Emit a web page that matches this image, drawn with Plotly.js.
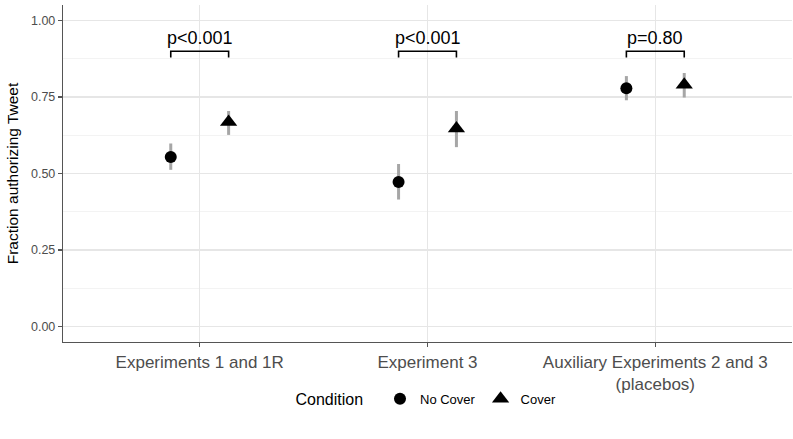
<!DOCTYPE html>
<html>
<head>
<meta charset="utf-8">
<script src="https://cdn.plot.ly/plotly-3.0.1.min.js"></script>
<style>html,body{margin:0;padding:0;background:#fff}#chart{width:793px;height:439px}</style>
</head>
<body>
<div id="chart"></div>
<script>
// Data
const categories = ["Experiments 1 and 1R", "Experiment 3", "Auxiliary Experiments 2 and 3<br>(placebos)"];
const noCoverMean = [0.554, 0.472, 0.778];
const noCoverLow  = [0.512, 0.415, 0.739];
const noCoverHigh = [0.598, 0.531, 0.818];
const coverMean   = [0.668, 0.647, 0.790];
const coverLow    = [0.626, 0.586, 0.748];
const coverHigh   = [0.704, 0.704, 0.828];
const pLabels = ["p<0.001", "p<0.001", "p=0.80"];
const yTicks = [0, 0.25, 0.5, 0.75, 1.0];
const yTickText = ["0.00", "0.25", "0.50", "0.75", "1.00"];

const dodge = 0.127;
const idx = categories.map((c, i) => i + 1);
const bracketY = 0.899, bracketDrop = 0.02;

const font = "Liberation Sans, Arial, sans-serif";
const errColor = "#a6a6a6";

const traces = [
  {
    name: "No Cover", type: "scatter", mode: "markers",
    x: idx.map(v => v - dodge), y: noCoverMean,
    marker: {symbol: "circle", size: 12, color: "#000"},
    error_y: {type: "data", symmetric: false,
      array: noCoverHigh.map((h, i) => h - noCoverMean[i]),
      arrayminus: noCoverMean.map((m, i) => m - noCoverLow[i]),
      width: 0, thickness: 3, color: errColor}
  },
  {
    name: "Cover", type: "scatter", mode: "markers",
    x: idx.map(v => v + dodge), y: coverMean,
    marker: {symbol: "triangle-up", size: 15, color: "#000"},
    error_y: {type: "data", symmetric: false,
      array: coverHigh.map((h, i) => h - coverMean[i]),
      arrayminus: coverMean.map((m, i) => m - coverLow[i]),
      width: 0, thickness: 3, color: errColor}
  }
];

const shapes = [];
const annotations = [];
idx.forEach((v, i) => {
  const x0 = v - dodge, x1 = v + dodge;
  shapes.push({type: "path", xref: "x", yref: "y",
    path: `M ${x0},${bracketY - bracketDrop} L ${x0},${bracketY} L ${x1},${bracketY} L ${x1},${bracketY - bracketDrop}`,
    line: {color: "#000", width: 1.6}});
  annotations.push({xref: "x", yref: "y", x: v, y: bracketY + 0.003, yanchor: "bottom",
    text: pLabels[i], showarrow: false, font: {family: font, size: 18, color: "#000"}});
});

const layout = {
  width: 793, height: 439,
  margin: {l: 63, r: 1, t: 5, b: 97},
  paper_bgcolor: "#fff", plot_bgcolor: "#fff",
  font: {family: font},
  showlegend: true,
  legend: {orientation: "h", x: 0.5, xanchor: "center", y: -0.17, yanchor: "middle",
    title: {text: "Condition  ", font: {family: font, size: 16, color: "#000"}, side: "left"},
    font: {family: font, size: 13, color: "#000"}, itemwidth: 30},
  xaxis: {range: [0.4, 3.6], tickmode: "array", tickvals: idx, ticktext: categories,
    showgrid: true, gridcolor: "#e6e6e6", gridwidth: 1.3, zeroline: false,
    showline: true, linecolor: "#555", linewidth: 1.2,
    ticks: "outside", ticklen: 4, tickcolor: "#555", tickwidth: 1.2,
    tickfont: {family: font, size: 17, color: "#4d4d4d"}},
  yaxis: {range: [-0.05, 1.05], tickmode: "array", tickvals: yTicks, ticktext: yTickText,
    showgrid: true, gridcolor: "#e6e6e6", gridwidth: 1.3, zeroline: false,
    minor: {tickvals: [0.125, 0.375, 0.625, 0.875], showgrid: true, gridcolor: "#f3f3f3", gridwidth: 1, ticks: ""},
    showline: true, linecolor: "#555", linewidth: 1.2,
    ticks: "outside", ticklen: 4, tickcolor: "#555", tickwidth: 1.2,
    tickfont: {family: font, size: 12.5, color: "#4d4d4d"},
    title: {text: "Fraction authorizing Tweet", font: {family: font, size: 15.5, color: "#000"}, standoff: 8}},
  shapes: shapes,
  annotations: annotations
};

Plotly.newPlot("chart", traces, layout, {displayModeBar: false, staticPlot: true});
</script>
</body>
</html>
